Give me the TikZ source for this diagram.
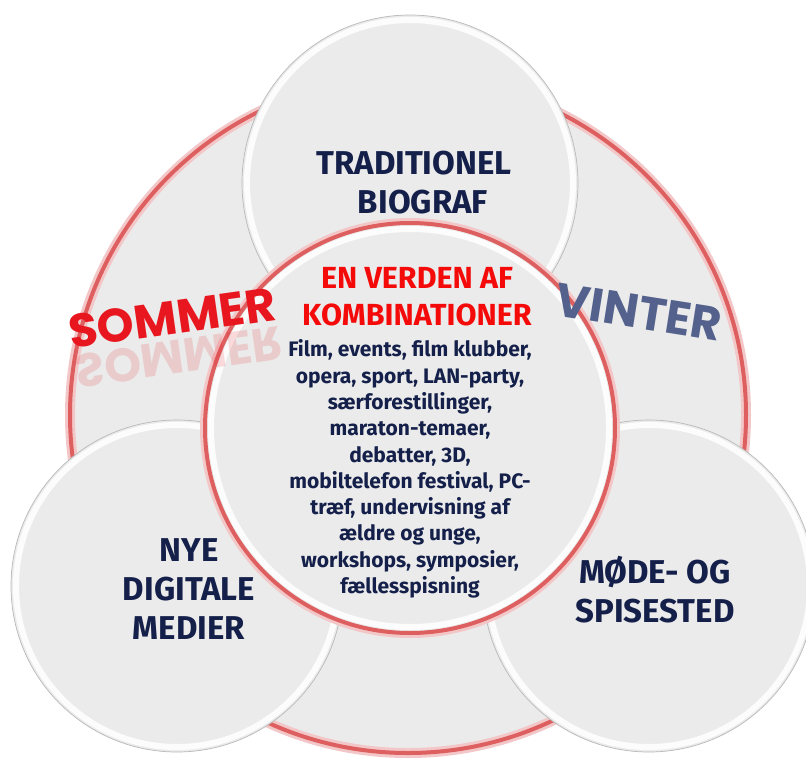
\documentclass[tikz,border=0pt]{standalone}
\usepackage{fontspec}
\setmainfont{Fira Sans}
\newfontfamily\seasonfont{Poppins}
\definecolor{navy}{HTML}{14204A}
\definecolor{rimred}{HTML}{DE5F60}
\definecolor{discgray}{HTML}{EBEBEB}
\definecolor{titlered}{HTML}{F50A0A}
\definecolor{sommerred}{HTML}{E8161E}
\definecolor{vinterblue}{HTML}{53618C}
\tikzset{
  disc/.style={fill=discgray, draw=gray!55, line width=0.7pt},
  gloss/.style={draw=white, line width=6pt, opacity=0.85},
  redrim/.style={draw=rimred, line width=4pt},
  redglow/.style={draw=rimred!35, line width=10pt},
  bigtext/.style={text=navy, align=center, font=\bfseries\fontsize{33}{39}\selectfont},
  titletext/.style={text=titlered, align=center, font=\bfseries\fontsize{30.5}{37}\selectfont},
  bodytext/.style={text=navy, align=center, font=\bfseries\fontsize{21}{26.3}\selectfont},
  seasontext/.style={inner sep=0pt, font=\seasonfont\bfseries\fontsize{47}{47}\selectfont}
}
\begin{document}
\begin{tikzpicture}[x=1pt,y=-1pt]
                \useasboundingbox[fill=white] (0,0) rectangle (806,758);
                \coordinate (big) at (408,415);
                \coordinate (top) at (410,183);
                \coordinate (left) at (177,586);
                \coordinate (right) at (649,586);
                \coordinate (mid) at (410,428);
                % background ring
                \fill[discgray] (big) circle (338pt);
                \draw[redglow] (big) circle (338pt);
                \draw[redrim] (big) circle (338pt);
                % outer discs
                \foreach \c/\r/\g in {top/168/163,left/166/161,right/166/161} {
                    \draw[disc] (\c) circle (\r pt);
                    \draw[gloss] (\c) circle (\g pt);
                }
                % middle disc
                \draw[redglow] (mid) circle (205pt);
                \fill[discgray] (mid) circle (205pt);
                \draw[gloss] (mid) circle (199pt);
                \draw[redrim] (mid) circle (205pt);
                \node[bigtext] (trad) at (414,183) {TRADITIONEL\\\hspace*{18pt}BIOGRAF};
                \node[bigtext] (nye) at (189,589) {NYE\\DIGITALE\\MEDIER};
                \node[bigtext] (mode) at (655,590) {MØDE- OG\\SPISESTED};
                \node[titletext] (verden) at (417,297) {EN VERDEN AF\\KOMBINATIONER};
                \node[bodytext] (combo) at (410,469) {Film, events, film klubber,\\
                    opera, sport, LAN-party,\\særforestillinger,\\maraton-temaer,\\
                    debatter, 3D,\\mobiltelefon festival, PC-\\træf, undervisning af\\
                    ældre og unge,\\workshops, symposier,\\fællesspisning};
                % seasons
                \node[seasontext, rotate=8, text=sommerred, opacity=0.15] (sommerecho) at (179,357) {\scalebox{1}[-1]{SOMMER}};
                \node[seasontext, rotate=8, text=sommerred] (sommer) at (172,318) {SOMMER};
                \node[seasontext, rotate=-9, text=vinterblue] (vinter) at (639,312) {VINTER};
            \end{tikzpicture}
\end{document}
